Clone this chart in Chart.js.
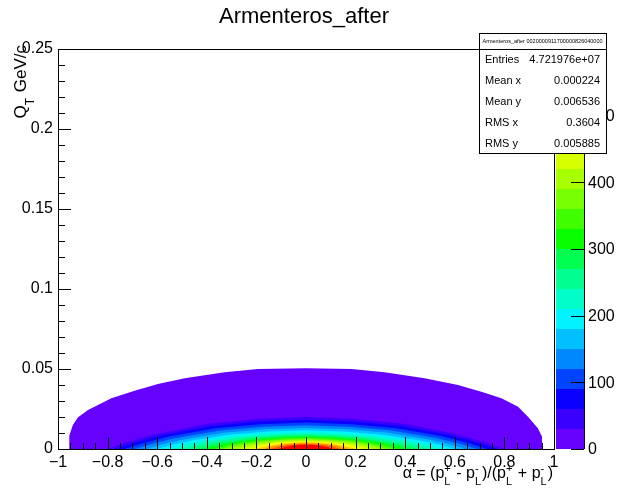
<!DOCTYPE html>
<html>
<head>
<meta charset="utf-8">
<script src="https://cdn.jsdelivr.net/npm/chart.js@4.4.0/dist/chart.umd.min.js"></script>
<style>
html, body { margin: 0; padding: 0; background: #fff; }
#wrap { width: 618px; height: 496px; }
</style>
</head>
<body>
<div id="wrap"><canvas id="armenteros" width="618" height="496"></canvas></div>
<script>
const histTitle = 'Armenteros_after';
const statsTitle = 'Armenteros_after 0020000911700000826040000';
const statNames = ['Entries', 'Mean x', 'Mean y', 'RMS x', 'RMS y'];
const statValues = ['4.721976e+07', '0.000224', '0.006536', '0.3604', '0.005885'];

const xTickValues = [-1, -0.8, -0.6, -0.4, -0.2, 0, 0.2, 0.4, 0.6, 0.8, 1];
const yTickValues = [0, 0.05, 0.1, 0.15, 0.2, 0.25];
const zTickValues = [0, 100, 200, 300, 400, 500];
const zMax = 600;

// colz palette, lowest contour first
const bandColors = [
    '#6600ff', '#3a00ff', '#0a00ff', '#0044ff', '#0088ff',
    '#00c0ff', '#00f4ff', '#00ffc8', '#00ff90', '#00ff50',
    '#08ff00', '#40ff00', '#78ff00', '#a8ff00', '#d8ff00',
    '#ffff00', '#ffc800', '#ff9000', '#ff5000', '#ff0000',
];

// upper edge of each contour band, [alpha, qT]
const band01 = [[-0.955, 0], [-0.955, 0.0081], [-0.94, 0.015], [-0.919, 0.0198], [-0.879, 0.0244], [-0.839, 0.0275], [-0.785, 0.0317], [-0.691, 0.0364], [-0.597, 0.0406], [-0.489, 0.0442], [-0.328, 0.0479], [-0.194, 0.05], [0, 0.0504], [0.183, 0.05], [0.317, 0.0479], [0.478, 0.0442], [0.613, 0.04], [0.707, 0.0358], [0.788, 0.0317], [0.855, 0.0264], [0.895, 0.0202], [0.935, 0.0129], [0.952, 0.0077], [0.952, 0]];
const band02 = [[-0.8, 0], [-0.72, 0.0044], [-0.6, 0.0096], [-0.4, 0.0156], [-0.2, 0.0188], [0, 0.02], [0.2, 0.0188], [0.4, 0.0156], [0.6, 0.0096], [0.72, 0.0044], [0.8, 0]];
const band03 = [[-0.77, 0], [-0.693, 0.004], [-0.578, 0.0088], [-0.385, 0.0143], [-0.19, 0.0172], [0, 0.0183], [0.19, 0.0172], [0.385, 0.0143], [0.578, 0.0088], [0.693, 0.004], [0.77, 0]];
const band04 = [[-0.73, 0], [-0.657, 0.0036], [-0.548, 0.0079], [-0.365, 0.0129], [-0.183, 0.0155], [0, 0.0165], [0.183, 0.0155], [0.365, 0.0129], [0.548, 0.0079], [0.657, 0.0036], [0.73, 0]];
const band05 = [[-0.69, 0], [-0.621, 0.0033], [-0.518, 0.0071], [-0.345, 0.0115], [-0.173, 0.0139], [0, 0.0148], [0.173, 0.0139], [0.345, 0.0115], [0.518, 0.0071], [0.621, 0.0033], [0.69, 0]];
const band06 = [[-0.645, 0], [-0.58, 0.0029], [-0.484, 0.0063], [-0.323, 0.0103], [-0.161, 0.0124], [0, 0.0132], [0.161, 0.0124], [0.323, 0.0103], [0.484, 0.0063], [0.58, 0.0029], [0.645, 0]];
const band07 = [[-0.6, 0], [-0.54, 0.0026], [-0.45, 0.0056], [-0.3, 0.0091], [-0.15, 0.011], [0, 0.0117], [0.15, 0.011], [0.3, 0.0091], [0.45, 0.0056], [0.54, 0.0026], [0.6, 0]];
const band08 = [[-0.55, 0], [-0.495, 0.0023], [-0.413, 0.005], [-0.275, 0.0081], [-0.138, 0.0098], [0, 0.0104], [0.138, 0.0098], [0.275, 0.0081], [0.413, 0.005], [0.495, 0.0023], [0.55, 0]];
const band09 = [[-0.5, 0], [-0.45, 0.0021], [-0.375, 0.0045], [-0.25, 0.0073], [-0.125, 0.0088], [0, 0.0094], [0.125, 0.0088], [0.25, 0.0073], [0.375, 0.0045], [0.45, 0.0021], [0.5, 0]];
const band10 = [[-0.45, 0], [-0.405, 0.0019], [-0.338, 0.0041], [-0.225, 0.0066], [-0.113, 0.008], [0, 0.0085], [0.113, 0.008], [0.225, 0.0066], [0.338, 0.0041], [0.405, 0.0019], [0.45, 0]];
const band11 = [[-0.41, 0], [-0.369, 0.0017], [-0.308, 0.0037], [-0.205, 0.006], [-0.103, 0.0072], [0, 0.0077], [0.103, 0.0072], [0.205, 0.006], [0.308, 0.0037], [0.369, 0.0017], [0.41, 0]];
const band12 = [[-0.37, 0], [-0.333, 0.0015], [-0.278, 0.0034], [-0.185, 0.0055], [-0.093, 0.0066], [0, 0.007], [0.093, 0.0066], [0.185, 0.0055], [0.278, 0.0034], [0.333, 0.0015], [0.37, 0]];
const band13 = [[-0.34, 0], [-0.306, 0.0014], [-0.255, 0.0031], [-0.17, 0.005], [-0.085, 0.006], [0, 0.0064], [0.085, 0.006], [0.17, 0.005], [0.255, 0.0031], [0.306, 0.0014], [0.34, 0]];
const band14 = [[-0.31, 0], [-0.279, 0.0013], [-0.233, 0.0028], [-0.155, 0.0045], [-0.078, 0.0055], [0, 0.0058], [0.078, 0.0055], [0.155, 0.0045], [0.233, 0.0028], [0.279, 0.0013], [0.31, 0]];
const band15 = [[-0.27, 0], [-0.243, 0.0011], [-0.203, 0.0025], [-0.135, 0.0041], [-0.068, 0.0049], [0, 0.0052], [0.068, 0.0049], [0.135, 0.0041], [0.203, 0.0025], [0.243, 0.0011], [0.27, 0]];
const band16 = [[-0.23, 0], [-0.207, 0.001], [-0.173, 0.0023], [-0.115, 0.0037], [-0.058, 0.0044], [0, 0.0047], [0.058, 0.0044], [0.115, 0.0037], [0.173, 0.0023], [0.207, 0.001], [0.23, 0]];
const band17 = [[-0.2, 0], [-0.18, 0.0009], [-0.15, 0.002], [-0.1, 0.0033], [-0.05, 0.0039], [0, 0.0042], [0.05, 0.0039], [0.1, 0.0033], [0.15, 0.002], [0.18, 0.0009], [0.2, 0]];
const band18 = [[-0.17, 0], [-0.153, 0.0008], [-0.128, 0.0018], [-0.085, 0.0029], [-0.043, 0.0035], [0, 0.0037], [0.043, 0.0035], [0.085, 0.0029], [0.128, 0.0018], [0.153, 0.0008], [0.17, 0]];
const band19 = [[-0.14, 0], [-0.126, 0.0007], [-0.105, 0.0015], [-0.07, 0.0025], [-0.035, 0.003], [0, 0.0032], [0.035, 0.003], [0.07, 0.0025], [0.105, 0.0015], [0.126, 0.0007], [0.14, 0]];
const band20 = [[-0.11, 0], [-0.099, 0.0006], [-0.083, 0.0013], [-0.055, 0.0021], [-0.028, 0.0025], [0, 0.0027], [0.028, 0.0025], [0.055, 0.0021], [0.083, 0.0013], [0.099, 0.0006], [0.11, 0]];
const bands = [band01, band02, band03, band04, band05, band06, band07, band08, band09, band10,
    band11, band12, band13, band14, band15, band16, band17, band18, band19, band20];

const FONT = '"Liberation Sans", Arial, Helvetica, sans-serif';

function axisLabel(v) {
    const s = String(Math.round(v * 100) / 100);
    return s.startsWith('-') ? '\u2212' + s.slice(1) : s;
}

// text pieces: plain text, or [sup, sub] stacked after the previous piece
function drawRichText(ctx, pieces, x, y, size, alignRight) {
    const small = Math.round(size * 0.7);
    const widths = pieces.map((p) => {
        if (typeof p === 'string') {
            ctx.font = `${size}px ${FONT}`;
            return ctx.measureText(p).width;
        }
        ctx.font = `${small}px ${FONT}`;
        return Math.max(ctx.measureText(p[0] || '').width, ctx.measureText(p[1] || '').width) + 1;
    });
    const total = widths.reduce((a, b) => a + b, 0);
    let cx = alignRight ? x - total : x;
    ctx.textAlign = 'left';
    ctx.textBaseline = 'alphabetic';
    pieces.forEach((p, i) => {
        if (typeof p === 'string') {
            ctx.font = `${size}px ${FONT}`;
            ctx.fillText(p, cx, y);
        } else {
            ctx.font = `${small}px ${FONT}`;
            if (p[0]) ctx.fillText(p[0], cx, y - size * 0.4);
            if (p[1]) ctx.fillText(p[1], cx, y + size * 0.45);
        }
        cx += widths[i];
    });
}

const rootDecor = {
    id: 'rootDecor',
    afterDraw(chart) {
        const { ctx, chartArea: a, scales } = chart;
        const sx = scales.x;
        const sy = scales.y;
        ctx.save();
        ctx.strokeStyle = '#000';
        ctx.fillStyle = '#000';
        ctx.lineWidth = 1;

        // frame
        ctx.strokeRect(Math.round(a.left) + 0.5, Math.round(a.top) + 0.5,
            Math.round(a.right - a.left), Math.round(a.bottom - a.top));

        // ticks inside the frame
        ctx.beginPath();
        for (let v = -1; v <= 1.0001; v += 0.05) {
            const px = Math.round(sx.getPixelForValue(v)) + 0.5;
            const major = Math.abs(v * 5 - Math.round(v * 5)) < 1e-6;
            ctx.moveTo(px, a.bottom);
            ctx.lineTo(px, a.bottom - (major ? 12 : 6));
        }
        for (let v = 0; v <= 0.2501; v += 0.01) {
            const py = Math.round(sy.getPixelForValue(v)) + 0.5;
            const major = Math.abs(v * 20 - Math.round(v * 20)) < 1e-6;
            ctx.moveTo(a.left, py);
            ctx.lineTo(a.left + (major ? 13 : 7), py);
        }
        ctx.stroke();

        // colour palette
        const pl = 556;
        const pr = 584;
        const ph = a.bottom - a.top;
        bandColors.forEach((c, i) => {
            const y0 = a.bottom - ph * (i + 1) / bandColors.length;
            const y1 = a.bottom - ph * i / bandColors.length;
            ctx.fillStyle = c;
            ctx.fillRect(pl, Math.round(y0), pr - pl, Math.round(y1) - Math.round(y0));
        });
        ctx.strokeStyle = '#000';
        ctx.beginPath();
        ctx.moveTo(pr + 0.5, a.top);
        ctx.lineTo(pr + 0.5, a.bottom);
        zTickValues.forEach((z) => {
            const py = Math.round(a.bottom - ph * z / zMax) + 0.5;
            ctx.moveTo(pr, py);
            ctx.lineTo(pr - 13, py);
        });
        ctx.stroke();
        ctx.fillStyle = '#000';
        ctx.font = `16px ${FONT}`;
        ctx.textAlign = 'left';
        ctx.textBaseline = 'middle';
        zTickValues.forEach((z) => {
            ctx.fillText(String(z), pr + 4, a.bottom - ph * z / zMax + 1);
        });

        // stats box
        const bx = 479;
        const by = 33;
        const bw = 127;
        const bh = 120;
        ctx.fillStyle = '#fff';
        ctx.fillRect(bx, by, bw, bh);
        ctx.strokeStyle = '#000';
        ctx.strokeRect(bx + 0.5, by + 0.5, bw, bh);
        ctx.beginPath();
        ctx.moveTo(bx, by + 16.5);
        ctx.lineTo(bx + bw, by + 16.5);
        ctx.stroke();
        ctx.fillStyle = '#000';
        ctx.font = `5.5px ${FONT}`;
        ctx.textAlign = 'center';
        ctx.textBaseline = 'middle';
        ctx.fillText(statsTitle, bx + bw / 2, by + 8.5);
        ctx.font = `11px ${FONT}`;
        const rowH = (bh - 16) / statNames.length;
        statNames.forEach((n, i) => {
            const ry = by + 16 + rowH * (i + 0.5) + 1;
            ctx.textAlign = 'left';
            ctx.fillText(n, bx + 6, ry);
            ctx.textAlign = 'right';
            ctx.fillText(statValues[i], bx + bw - 6, ry);
        });

        // titles
        ctx.font = `22px ${FONT}`;
        ctx.textAlign = 'center';
        ctx.textBaseline = 'alphabetic';
        ctx.fillText(histTitle, 304, 23);

        drawRichText(ctx, ['\u03b1 = (', 'p', ['+', 'L'], ' - ', 'p', ['-', 'L'], ')/(', 'p', ['+', 'L'],
            ' + ', 'p', ['-', 'L'], ')'], 553, 478, 16, true);

        ctx.translate(26, 45);
        ctx.rotate(-Math.PI / 2);
        drawRichText(ctx, ['Q', [null, 'T'], ' GeV/c'], 0, 0, 17, true);
        ctx.restore();
    },
};

const datasets = bands.map((pts, i) => ({
    label: `band ${i + 1}`,
    data: pts.map(([x, y]) => ({ x, y })),
    backgroundColor: bandColors[i],
    borderWidth: 0,
    pointRadius: 0,
    tension: 0,
    fill: 'origin',
    order: bands.length - i,
}));

new Chart(document.getElementById('armenteros'), {
    type: 'line',
    data: { datasets },
    options: {
        responsive: false,
        animation: false,
        devicePixelRatio: 1,
        layout: { padding: { top: 49, right: 64, left: 0, bottom: 0 } },
        plugins: { legend: { display: false }, tooltip: { enabled: false } },
        scales: {
            x: {
                type: 'linear',
                min: -1,
                max: 1,
                afterBuildTicks: (s) => { s.ticks = xTickValues.map((v) => ({ value: v })); },
                afterFit: (s) => { s.height = 47; },
                grid: { display: false, drawTicks: false },
                border: { display: false },
                ticks: {
                    padding: 4,
                    color: '#000',
                    maxRotation: 0,
                    autoSkip: false,
                    font: { family: FONT, size: 16 },
                    callback: (v) => axisLabel(v),
                },
            },
            y: {
                type: 'linear',
                min: 0,
                max: 0.25,
                afterBuildTicks: (s) => { s.ticks = yTickValues.map((v) => ({ value: v })); },
                afterFit: (s) => { s.width = 58; },
                grid: { display: false, drawTicks: false },
                border: { display: false },
                ticks: {
                    padding: 5,
                    color: '#000',
                    font: { family: FONT, size: 16 },
                    callback: (v) => axisLabel(v),
                },
            },
        },
    },
    plugins: [rootDecor],
});
</script>
</body>
</html>
